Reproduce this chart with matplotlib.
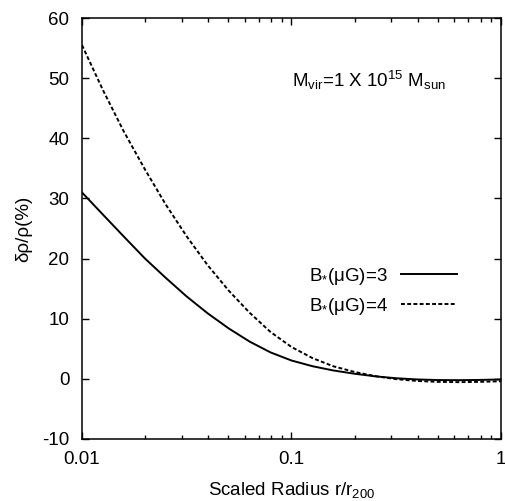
import matplotlib
matplotlib.use("Agg")
import matplotlib.pyplot as plt
from matplotlib.ticker import LogLocator, NullFormatter, FixedLocator

plt.rcParams['font.family'] = ['Liberation Sans', 'DejaVu Sans']
plt.rcParams['mathtext.fontset'] = 'custom'
plt.rcParams['mathtext.rm'] = 'Liberation Sans'
plt.rcParams['mathtext.it'] = 'Liberation Sans'
plt.rcParams['mathtext.default'] = 'regular'

# Data
radius = [0.01, 0.0126, 0.0158, 0.02, 0.0251, 0.0316, 0.0398, 0.0501, 0.0631, 0.0794,
          0.1, 0.126, 0.158, 0.2, 0.251, 0.316, 0.398, 0.501, 0.631, 0.794, 1.0]
b3 = [31.0, 27.3, 23.7, 20.0, 16.8, 13.7, 10.9, 8.4, 6.2, 4.4,
      3.05, 2.1, 1.4, 0.85, 0.42, 0.1, -0.1, -0.2, -0.22, -0.18, -0.1]
b4 = [55.5, 48.0, 41.2, 34.8, 29.0, 23.7, 18.9, 14.7, 11.0, 7.8,
      5.3, 3.45, 2.1, 1.15, 0.45, -0.05, -0.35, -0.5, -0.55, -0.5, -0.4]
labels = [r'B$_{*}$(μG)=3', r'B$_{*}$(μG)=4']
yticks = [-10, 0, 10, 20, 30, 40, 50, 60]
xticks = [0.01, 0.1, 1]
xticklabels = ['0.01', '0.1', '1']

FS = 13.5

fig = plt.figure(figsize=(5.06, 5.01), dpi=100)
ax = fig.add_axes([0.162, 0.1238, 0.828, 0.8402])

ax.plot(radius, b3, color='black', lw=1.4, label=labels[0])
ax.plot(radius, b4, color='black', lw=1.4, dashes=(2.0, 1.2), label=labels[1])

ax.set_xscale('log')
ax.set_xlim(0.01, 1)
ax.set_ylim(-10, 60)
ax.xaxis.set_major_locator(FixedLocator(xticks))
ax.set_xticklabels(xticklabels)
ax.xaxis.set_minor_locator(LogLocator(base=10, subs=range(2, 10)))
ax.xaxis.set_minor_formatter(NullFormatter())
ax.set_yticks(yticks)
ax.set_yticklabels([str(v) for v in yticks])

ax.tick_params(which='both', direction='in', top=True, right=True, labelsize=FS)
ax.tick_params(which='major', length=5, width=1.0)
ax.tick_params(which='minor', length=3, width=1.0)
ax.tick_params(axis='x', pad=9)
ax.tick_params(axis='y', pad=9)
for s in ax.spines.values():
    s.set_linewidth(1.1)

ax.set_xlabel(r'Scaled Radius r/r$_{200}$', fontsize=FS, labelpad=8)
ax.set_ylabel('δρ/ρ(%)', fontsize=FS, labelpad=7)

ax.text(0.501, 0.836, r'M$_{vir}$=1 X 10$^{15}$ M$_{sun}$', transform=ax.transAxes,
        fontsize=FS, ha='left', va='baseline')

leg = ax.legend(loc='center right', bbox_to_anchor=(0.895, 0.351), frameon=False,
                markerfirst=False, fontsize=FS, handlelength=3.0, handletextpad=0.7,
                labelspacing=0.5, borderaxespad=0, borderpad=0)

fig.savefig('out.png', dpi=100)
